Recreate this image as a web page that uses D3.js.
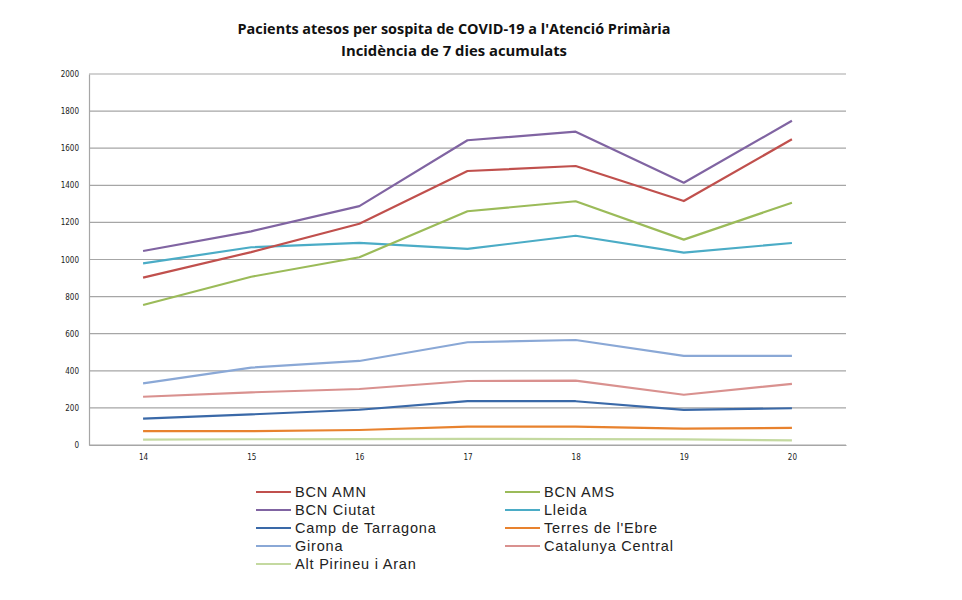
<!DOCTYPE html>
<html>
<head>
<meta charset="utf-8">
<script src="https://cdn.jsdelivr.net/npm/d3@7"></script>
<style>
body{margin:0;background:#fff;}
svg{display:block;}
</style>
</head>
<body>
<svg id="chart" width="962" height="600"></svg>
<script>
const weeks = ["14","15","16","17","18","19","20"];
const yTicks = [0,200,400,600,800,1000,1200,1400,1600,1800,2000];
const titleLines = ["Pacients atesos per sospita de COVID-19 a l'Atenció Primària","Incidència de 7 dies acumulats"];

const seriesNames = ["BCN AMN","BCN AMS","BCN Ciutat","Lleida","Camp de Tarragona","Terres de l'Ebre","Girona","Catalunya Central","Alt Pirineu i Aran"];
const seriesColors = ["#C0504D","#9BBB59","#8064A2","#4BACC6","#3A69A8","#E8822E","#8AA8D6","#D9918F","#C4D9A0"];

const bcnAMN = [902,1040,1193,1477,1504,1315,1648];
const bcnAMS = [755,907,1012,1260,1314,1107,1306];
const bcnCiutat = [1046,1152,1288,1643,1689,1414,1748];
const lleida = [979,1066,1090,1057,1128,1037,1089];
const campTarragona = [142,165,190,237,236,189,198];
const terresEbre = [75,75,81,99,99,88,92];
const girona = [332,417,453,554,566,480,480];
const catCentral = [260,284,302,345,347,271,330];
const altPirineu = [29,31,32,33,32,30,25];

const seriesValues = [bcnAMN,bcnAMS,bcnCiutat,lleida,campTarragona,terresEbre,girona,catCentral,altPirineu];
const drawOrder = [8,7,6,5,4,3,2,1,0];

(function(){
const svg = d3.select("#chart");
const mLeft = 89, mRight = 846, mTop = 74, mBottom = 445;

const x = d3.scalePoint().domain(weeks).range([mLeft, mRight]).padding(0.5);
const y = d3.scaleLinear().domain([0,2000]).range([mBottom, mTop]);

svg.append("g").selectAll("line").data(yTicks).join("line")
  .attr("x1", mLeft).attr("x2", mRight)
  .attr("y1", d => y(d)).attr("y2", d => y(d))
  .attr("stroke", "#a6a6a6").attr("stroke-width", 1.2);

const yAxis = svg.append("g").attr("transform", `translate(${mLeft},0)`)
  .call(d3.axisLeft(y).tickValues(yTicks).tickSize(0).tickPadding(10).tickFormat(d3.format("d")));
yAxis.select(".domain").attr("stroke", "#a6a6a6").attr("stroke-width", 1.2);
yAxis.selectAll("text").attr("font-family", "DejaVu Sans Condensed, Liberation Sans, sans-serif")
  .attr("font-size", 8).attr("fill", "#222");

const xAxis = svg.append("g").attr("transform", `translate(0,${mBottom})`)
  .call(d3.axisBottom(x).tickSize(0).tickPadding(9));
xAxis.select(".domain").attr("stroke", "#a6a6a6").attr("stroke-width", 1.2);
xAxis.selectAll("text").attr("font-family", "DejaVu Sans Condensed, Liberation Sans, sans-serif")
  .attr("font-size", 8).attr("fill", "#222");

const line = d3.line().x((d,i) => x(weeks[i])).y(d => y(d));
svg.append("g").selectAll("path").data(drawOrder).join("path")
  .attr("d", i => line(seriesValues[i]))
  .attr("fill", "none")
  .attr("stroke", i => seriesColors[i])
  .attr("stroke-width", 2.2)
  .attr("stroke-linejoin", "round");

svg.append("g").selectAll("text").data(titleLines).join("text")
  .attr("x", 454).attr("y", (d,i) => 34 + i*22)
  .attr("text-anchor", "middle")
  .attr("font-family", "Open Sans, Liberation Sans, sans-serif")
  .attr("font-weight", "bold").attr("font-size", 14)
  .attr("fill", "#111")
  .attr("textLength", (d,i) => i === 0 ? 433 : 226)
  .attr("lengthAdjust", "spacingAndGlyphs")
  .text(d => d);

const legX = [256, 505], legY0 = 492, legDy = 18;
const leg = svg.append("g").selectAll("g").data(seriesNames).join("g")
  .attr("transform", (d,i) => `translate(${legX[i%2]},${legY0 + Math.floor(i/2)*legDy})`);
leg.append("line").attr("x1", 0).attr("x2", 35).attr("y1", 0).attr("y2", 0)
  .attr("stroke", (d,i) => seriesColors[i]).attr("stroke-width", 2.2);
leg.append("text").attr("x", 39).attr("y", 5)
  .attr("font-family", "Liberation Sans, Arial, sans-serif")
  .attr("font-size", 14.5).attr("letter-spacing", 0.8).attr("fill", "#222")
  .text(d => d);
})();
</script>
</body>
</html>
